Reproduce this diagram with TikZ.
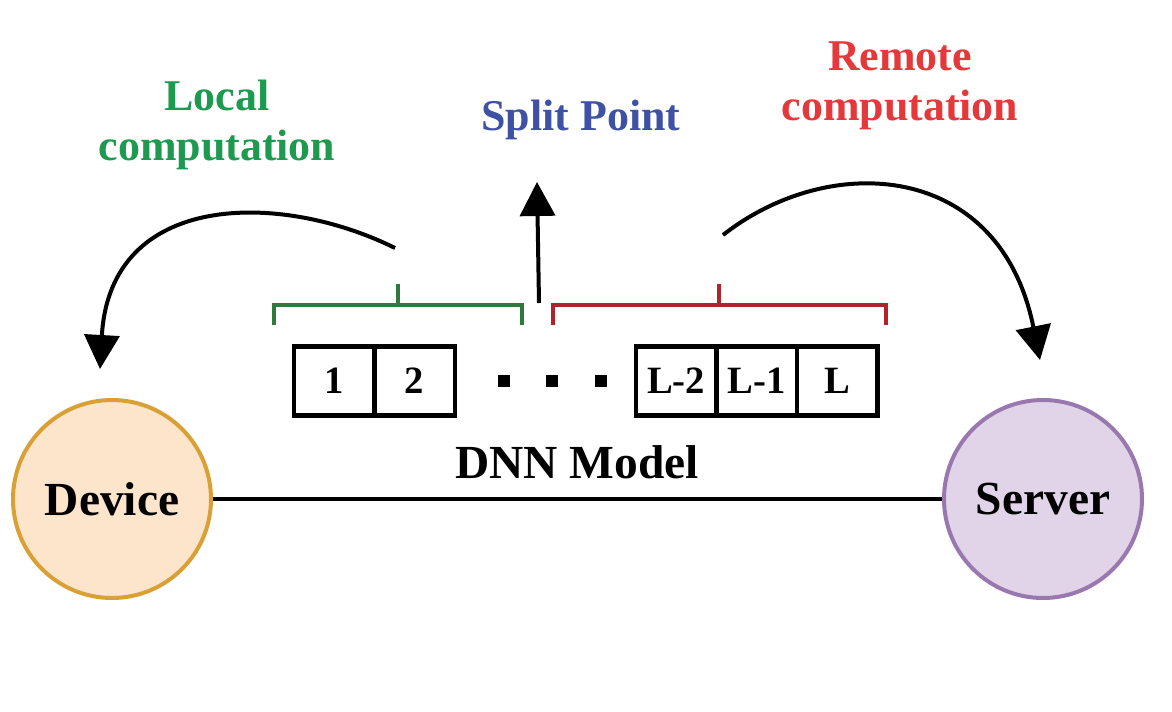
\documentclass[tikz,border=0pt]{standalone}
\usepackage{fontspec}
\setmainfont{Liberation Serif}
\usetikzlibrary{arrows.meta,positioning}

\definecolor{devfill}{HTML}{FDE5CC}
\definecolor{devline}{HTML}{D9A135}
\definecolor{srvfill}{HTML}{E2D4E8}
\definecolor{srvline}{HTML}{9878AE}
\definecolor{localtxt}{HTML}{1E9A50}
\definecolor{localbr}{HTML}{2E7A3C}
\definecolor{remotetxt}{HTML}{E5383B}
\definecolor{remotebr}{HTML}{B0232A}
\definecolor{splittxt}{HTML}{3F51A5}

\begin{document}
\begin{tikzpicture}[
    layer/.style={draw,line width=0.09cm,minimum width=1.61cm,minimum height=1.38cm,
        outer sep=0pt,inner sep=0pt,font=\fontsize{22}{26}\selectfont\bfseries},
    host/.style={circle,line width=0.08cm,minimum size=3.96cm,inner sep=0pt,
        font=\fontsize{27}{32}\selectfont\bfseries},
    lbl/.style={align=center,font=\fontsize{25}{28.5}\selectfont\bfseries},
    brace/.style={line width=0.08cm},
    flow/.style={line width=0.08cm,-{Triangle[length=0.68cm,width=0.7cm]}}]
    \useasboundingbox (0,0) rectangle (23.44,14.22);
    \node[host,draw=devline,fill=devfill] (device) at (2.24,4.24) {Device};
    \node[host,draw=srvline,fill=srvfill] (server) at (20.86,4.24) {Server};
    \draw[line width=0.08cm] (device) -- (server);
    \node[anchor=base,font=\fontsize{27}{32}\selectfont\bfseries] (model) at (11.54,4.66) {DNN Model};
    \node[layer] (l1) at (6.68,6.60) {1};
    \node[layer,right=0pt of l1] (l2) {2};
    \node[layer] (lm2) at (13.52,6.60) {L-2};
    \node[layer,right=0pt of lm2] (lm1) {L-1};
    \node[layer,right=0pt of lm1] (lL) {L};
    \foreach \x in {10.08,11.04,12.02}
        \fill (\x-0.12,6.48) rectangle ++(0.24,0.24);
    % brackets over the layers
    \draw[brace,draw=localbr] (5.48,7.72) |- (10.44,8.12) -- (10.44,7.72);
    \draw[brace,draw=localbr] (7.96,8.12) -- (7.96,8.54);
    \draw[brace,draw=remotebr] (11.06,7.72) |- (17.72,8.12) -- (17.72,7.72);
    \draw[brace,draw=remotebr] (14.38,8.12) -- (14.38,8.54);
    % labels
    \node[lbl,text=localtxt] (local) at (4.34,11.72) {Local\\computation};
    \node[lbl,text=remotetxt] (remote) at (18.0,12.5) {Remote\\computation};
    \node[lbl,anchor=base,text=splittxt] (split) at (11.62,11.6) {Split Point};
    % arrows
    \coordinate (local-from) at (7.90,9.26);
    \coordinate (local-to) at (2.00,6.84);
    \coordinate (remote-from) at (14.46,9.52);
    \coordinate (remote-to) at (20.8,7.02);
    \coordinate (split-from) at (10.78,8.16);
    \coordinate (split-to) at (10.74,10.58);
    \draw[flow] (local-from) .. controls (5.6,10.4) and (2.2,10.4) .. (local-to);
    \draw[flow] (remote-from) .. controls (16.6,11.2) and (20.0,11.0) .. (remote-to);
    \draw[flow] (split-from) -- (split-to);
\end{tikzpicture}
\end{document}
